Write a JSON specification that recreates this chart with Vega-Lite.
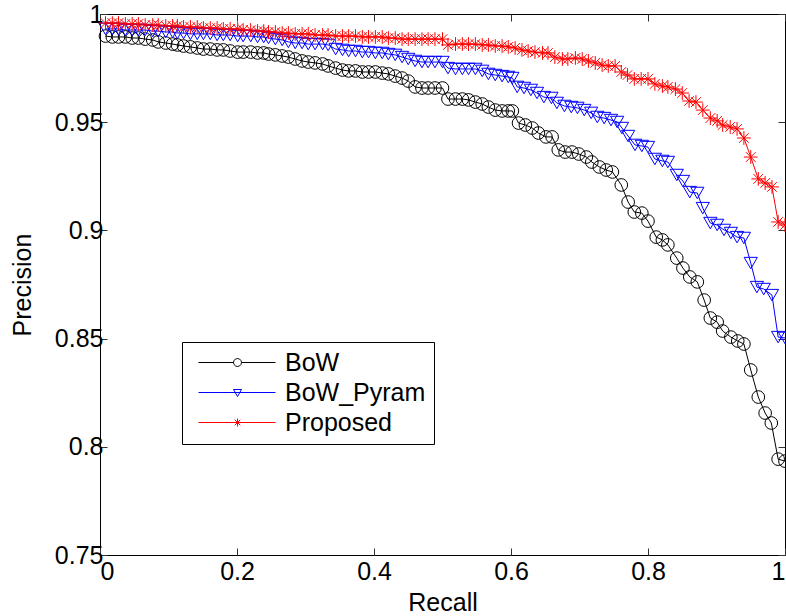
{
  "$schema": "https://vega.github.io/schema/vega-lite/v6.json",
  "width": 685,
  "height": 541,
  "autosize": {"type": "none"},
  "padding": {"left": 100, "top": 14, "right": 1, "bottom": 61},
  "background": "white",
  "config": {
    "view": {"stroke": "black", "strokeWidth": 1},
    "font": "Liberation Sans",
    "axis": {
      "grid": false,
      "domain": false,
      "tickSize": -7,
      "tickColor": "#333333",
      "tickWidth": 1,
      "labelFont": "Liberation Sans",
      "labelFontSize": 25,
      "labelColor": "black",
      "titleFont": "Liberation Sans",
      "titleFontSize": 25,
      "titleFontWeight": "normal",
      "titleColor": "black"
    }
  },
  "data": {
    "values": [
      {"method": "BoW", "recall": 0.008, "precision": 0.9898},
      {"method": "BoW", "recall": 0.018, "precision": 0.9894},
      {"method": "BoW", "recall": 0.027, "precision": 0.9894},
      {"method": "BoW", "recall": 0.037, "precision": 0.9894},
      {"method": "BoW", "recall": 0.047, "precision": 0.9889},
      {"method": "BoW", "recall": 0.056, "precision": 0.9889},
      {"method": "BoW", "recall": 0.066, "precision": 0.9884},
      {"method": "BoW", "recall": 0.077, "precision": 0.9880},
      {"method": "BoW", "recall": 0.085, "precision": 0.9871},
      {"method": "BoW", "recall": 0.096, "precision": 0.9866},
      {"method": "BoW", "recall": 0.106, "precision": 0.9861},
      {"method": "BoW", "recall": 0.113, "precision": 0.9857},
      {"method": "BoW", "recall": 0.122, "precision": 0.9852},
      {"method": "BoW", "recall": 0.132, "precision": 0.9848},
      {"method": "BoW", "recall": 0.142, "precision": 0.9843},
      {"method": "BoW", "recall": 0.151, "precision": 0.9838},
      {"method": "BoW", "recall": 0.161, "precision": 0.9838},
      {"method": "BoW", "recall": 0.171, "precision": 0.9834},
      {"method": "BoW", "recall": 0.180, "precision": 0.9834},
      {"method": "BoW", "recall": 0.190, "precision": 0.9829},
      {"method": "BoW", "recall": 0.201, "precision": 0.9824},
      {"method": "BoW", "recall": 0.209, "precision": 0.9824},
      {"method": "BoW", "recall": 0.220, "precision": 0.9824},
      {"method": "BoW", "recall": 0.230, "precision": 0.9820},
      {"method": "BoW", "recall": 0.239, "precision": 0.9820},
      {"method": "BoW", "recall": 0.246, "precision": 0.9815},
      {"method": "BoW", "recall": 0.256, "precision": 0.9811},
      {"method": "BoW", "recall": 0.266, "precision": 0.9806},
      {"method": "BoW", "recall": 0.275, "precision": 0.9801},
      {"method": "BoW", "recall": 0.285, "precision": 0.9792},
      {"method": "BoW", "recall": 0.295, "precision": 0.9783},
      {"method": "BoW", "recall": 0.304, "precision": 0.9778},
      {"method": "BoW", "recall": 0.314, "precision": 0.9774},
      {"method": "BoW", "recall": 0.325, "precision": 0.9769},
      {"method": "BoW", "recall": 0.333, "precision": 0.9760},
      {"method": "BoW", "recall": 0.344, "precision": 0.9750},
      {"method": "BoW", "recall": 0.354, "precision": 0.9741},
      {"method": "BoW", "recall": 0.363, "precision": 0.9737},
      {"method": "BoW", "recall": 0.373, "precision": 0.9737},
      {"method": "BoW", "recall": 0.383, "precision": 0.9732},
      {"method": "BoW", "recall": 0.392, "precision": 0.9732},
      {"method": "BoW", "recall": 0.402, "precision": 0.9732},
      {"method": "BoW", "recall": 0.412, "precision": 0.9727},
      {"method": "BoW", "recall": 0.421, "precision": 0.9723},
      {"method": "BoW", "recall": 0.431, "precision": 0.9713},
      {"method": "BoW", "recall": 0.441, "precision": 0.9704},
      {"method": "BoW", "recall": 0.450, "precision": 0.9690},
      {"method": "BoW", "recall": 0.460, "precision": 0.9663},
      {"method": "BoW", "recall": 0.470, "precision": 0.9658},
      {"method": "BoW", "recall": 0.479, "precision": 0.9658},
      {"method": "BoW", "recall": 0.489, "precision": 0.9658},
      {"method": "BoW", "recall": 0.500, "precision": 0.9658},
      {"method": "BoW", "recall": 0.508, "precision": 0.9607},
      {"method": "BoW", "recall": 0.519, "precision": 0.9607},
      {"method": "BoW", "recall": 0.529, "precision": 0.9607},
      {"method": "BoW", "recall": 0.538, "precision": 0.9603},
      {"method": "BoW", "recall": 0.548, "precision": 0.9593},
      {"method": "BoW", "recall": 0.558, "precision": 0.9584},
      {"method": "BoW", "recall": 0.567, "precision": 0.9570},
      {"method": "BoW", "recall": 0.577, "precision": 0.9556},
      {"method": "BoW", "recall": 0.587, "precision": 0.9552},
      {"method": "BoW", "recall": 0.596, "precision": 0.9552},
      {"method": "BoW", "recall": 0.602, "precision": 0.9552},
      {"method": "BoW", "recall": 0.611, "precision": 0.9496},
      {"method": "BoW", "recall": 0.621, "precision": 0.9487},
      {"method": "BoW", "recall": 0.631, "precision": 0.9473},
      {"method": "BoW", "recall": 0.640, "precision": 0.9450},
      {"method": "BoW", "recall": 0.651, "precision": 0.9432},
      {"method": "BoW", "recall": 0.660, "precision": 0.9432},
      {"method": "BoW", "recall": 0.669, "precision": 0.9372},
      {"method": "BoW", "recall": 0.679, "precision": 0.9362},
      {"method": "BoW", "recall": 0.689, "precision": 0.9362},
      {"method": "BoW", "recall": 0.699, "precision": 0.9353},
      {"method": "BoW", "recall": 0.710, "precision": 0.9339},
      {"method": "BoW", "recall": 0.718, "precision": 0.9316},
      {"method": "BoW", "recall": 0.729, "precision": 0.9293},
      {"method": "BoW", "recall": 0.739, "precision": 0.9279},
      {"method": "BoW", "recall": 0.748, "precision": 0.9270},
      {"method": "BoW", "recall": 0.761, "precision": 0.9210},
      {"method": "BoW", "recall": 0.771, "precision": 0.9131},
      {"method": "BoW", "recall": 0.780, "precision": 0.9085},
      {"method": "BoW", "recall": 0.791, "precision": 0.9080},
      {"method": "BoW", "recall": 0.800, "precision": 0.9043},
      {"method": "BoW", "recall": 0.812, "precision": 0.8969},
      {"method": "BoW", "recall": 0.821, "precision": 0.8956},
      {"method": "BoW", "recall": 0.829, "precision": 0.8933},
      {"method": "BoW", "recall": 0.842, "precision": 0.8872},
      {"method": "BoW", "recall": 0.851, "precision": 0.8826},
      {"method": "BoW", "recall": 0.861, "precision": 0.8785},
      {"method": "BoW", "recall": 0.872, "precision": 0.8762},
      {"method": "BoW", "recall": 0.882, "precision": 0.8678},
      {"method": "BoW", "recall": 0.891, "precision": 0.8595},
      {"method": "BoW", "recall": 0.901, "precision": 0.8576},
      {"method": "BoW", "recall": 0.909, "precision": 0.8535},
      {"method": "BoW", "recall": 0.921, "precision": 0.8507},
      {"method": "BoW", "recall": 0.931, "precision": 0.8489},
      {"method": "BoW", "recall": 0.940, "precision": 0.8475},
      {"method": "BoW", "recall": 0.950, "precision": 0.8355},
      {"method": "BoW", "recall": 0.961, "precision": 0.8230},
      {"method": "BoW", "recall": 0.971, "precision": 0.8156},
      {"method": "BoW", "recall": 0.980, "precision": 0.8110},
      {"method": "BoW", "recall": 0.990, "precision": 0.7943},
      {"method": "BoW", "recall": 1.000, "precision": 0.7934},

      {"method": "BoW_Pyram", "recall": 0.008, "precision": 0.9931},
      {"method": "BoW_Pyram", "recall": 0.018, "precision": 0.9931},
      {"method": "BoW_Pyram", "recall": 0.027, "precision": 0.9931},
      {"method": "BoW_Pyram", "recall": 0.037, "precision": 0.9926},
      {"method": "BoW_Pyram", "recall": 0.047, "precision": 0.9926},
      {"method": "BoW_Pyram", "recall": 0.056, "precision": 0.9926},
      {"method": "BoW_Pyram", "recall": 0.066, "precision": 0.9926},
      {"method": "BoW_Pyram", "recall": 0.077, "precision": 0.9921},
      {"method": "BoW_Pyram", "recall": 0.085, "precision": 0.9921},
      {"method": "BoW_Pyram", "recall": 0.096, "precision": 0.9917},
      {"method": "BoW_Pyram", "recall": 0.106, "precision": 0.9917},
      {"method": "BoW_Pyram", "recall": 0.113, "precision": 0.9912},
      {"method": "BoW_Pyram", "recall": 0.122, "precision": 0.9912},
      {"method": "BoW_Pyram", "recall": 0.132, "precision": 0.9908},
      {"method": "BoW_Pyram", "recall": 0.142, "precision": 0.9908},
      {"method": "BoW_Pyram", "recall": 0.151, "precision": 0.9908},
      {"method": "BoW_Pyram", "recall": 0.161, "precision": 0.9908},
      {"method": "BoW_Pyram", "recall": 0.171, "precision": 0.9903},
      {"method": "BoW_Pyram", "recall": 0.180, "precision": 0.9903},
      {"method": "BoW_Pyram", "recall": 0.190, "precision": 0.9903},
      {"method": "BoW_Pyram", "recall": 0.201, "precision": 0.9898},
      {"method": "BoW_Pyram", "recall": 0.209, "precision": 0.9898},
      {"method": "BoW_Pyram", "recall": 0.220, "precision": 0.9898},
      {"method": "BoW_Pyram", "recall": 0.230, "precision": 0.9894},
      {"method": "BoW_Pyram", "recall": 0.239, "precision": 0.9894},
      {"method": "BoW_Pyram", "recall": 0.246, "precision": 0.9889},
      {"method": "BoW_Pyram", "recall": 0.256, "precision": 0.9884},
      {"method": "BoW_Pyram", "recall": 0.266, "precision": 0.9880},
      {"method": "BoW_Pyram", "recall": 0.275, "precision": 0.9871},
      {"method": "BoW_Pyram", "recall": 0.285, "precision": 0.9866},
      {"method": "BoW_Pyram", "recall": 0.295, "precision": 0.9866},
      {"method": "BoW_Pyram", "recall": 0.304, "precision": 0.9861},
      {"method": "BoW_Pyram", "recall": 0.314, "precision": 0.9861},
      {"method": "BoW_Pyram", "recall": 0.325, "precision": 0.9861},
      {"method": "BoW_Pyram", "recall": 0.333, "precision": 0.9857},
      {"method": "BoW_Pyram", "recall": 0.344, "precision": 0.9838},
      {"method": "BoW_Pyram", "recall": 0.354, "precision": 0.9834},
      {"method": "BoW_Pyram", "recall": 0.363, "precision": 0.9829},
      {"method": "BoW_Pyram", "recall": 0.373, "precision": 0.9829},
      {"method": "BoW_Pyram", "recall": 0.383, "precision": 0.9824},
      {"method": "BoW_Pyram", "recall": 0.392, "precision": 0.9824},
      {"method": "BoW_Pyram", "recall": 0.402, "precision": 0.9820},
      {"method": "BoW_Pyram", "recall": 0.412, "precision": 0.9820},
      {"method": "BoW_Pyram", "recall": 0.421, "precision": 0.9815},
      {"method": "BoW_Pyram", "recall": 0.431, "precision": 0.9811},
      {"method": "BoW_Pyram", "recall": 0.441, "precision": 0.9801},
      {"method": "BoW_Pyram", "recall": 0.450, "precision": 0.9792},
      {"method": "BoW_Pyram", "recall": 0.460, "precision": 0.9783},
      {"method": "BoW_Pyram", "recall": 0.470, "precision": 0.9778},
      {"method": "BoW_Pyram", "recall": 0.479, "precision": 0.9778},
      {"method": "BoW_Pyram", "recall": 0.489, "precision": 0.9778},
      {"method": "BoW_Pyram", "recall": 0.500, "precision": 0.9778},
      {"method": "BoW_Pyram", "recall": 0.508, "precision": 0.9750},
      {"method": "BoW_Pyram", "recall": 0.519, "precision": 0.9746},
      {"method": "BoW_Pyram", "recall": 0.529, "precision": 0.9746},
      {"method": "BoW_Pyram", "recall": 0.538, "precision": 0.9746},
      {"method": "BoW_Pyram", "recall": 0.548, "precision": 0.9746},
      {"method": "BoW_Pyram", "recall": 0.558, "precision": 0.9737},
      {"method": "BoW_Pyram", "recall": 0.567, "precision": 0.9723},
      {"method": "BoW_Pyram", "recall": 0.577, "precision": 0.9718},
      {"method": "BoW_Pyram", "recall": 0.587, "precision": 0.9713},
      {"method": "BoW_Pyram", "recall": 0.596, "precision": 0.9709},
      {"method": "BoW_Pyram", "recall": 0.602, "precision": 0.9704},
      {"method": "BoW_Pyram", "recall": 0.609, "precision": 0.9663},
      {"method": "BoW_Pyram", "recall": 0.619, "precision": 0.9658},
      {"method": "BoW_Pyram", "recall": 0.629, "precision": 0.9649},
      {"method": "BoW_Pyram", "recall": 0.638, "precision": 0.9635},
      {"method": "BoW_Pyram", "recall": 0.648, "precision": 0.9616},
      {"method": "BoW_Pyram", "recall": 0.659, "precision": 0.9612},
      {"method": "BoW_Pyram", "recall": 0.667, "precision": 0.9589},
      {"method": "BoW_Pyram", "recall": 0.678, "precision": 0.9575},
      {"method": "BoW_Pyram", "recall": 0.688, "precision": 0.9570},
      {"method": "BoW_Pyram", "recall": 0.697, "precision": 0.9566},
      {"method": "BoW_Pyram", "recall": 0.707, "precision": 0.9556},
      {"method": "BoW_Pyram", "recall": 0.717, "precision": 0.9543},
      {"method": "BoW_Pyram", "recall": 0.726, "precision": 0.9524},
      {"method": "BoW_Pyram", "recall": 0.736, "precision": 0.9519},
      {"method": "BoW_Pyram", "recall": 0.746, "precision": 0.9510},
      {"method": "BoW_Pyram", "recall": 0.755, "precision": 0.9501},
      {"method": "BoW_Pyram", "recall": 0.762, "precision": 0.9473},
      {"method": "BoW_Pyram", "recall": 0.771, "precision": 0.9436},
      {"method": "BoW_Pyram", "recall": 0.781, "precision": 0.9395},
      {"method": "BoW_Pyram", "recall": 0.791, "precision": 0.9390},
      {"method": "BoW_Pyram", "recall": 0.800, "precision": 0.9385},
      {"method": "BoW_Pyram", "recall": 0.810, "precision": 0.9330},
      {"method": "BoW_Pyram", "recall": 0.821, "precision": 0.9321},
      {"method": "BoW_Pyram", "recall": 0.829, "precision": 0.9316},
      {"method": "BoW_Pyram", "recall": 0.842, "precision": 0.9256},
      {"method": "BoW_Pyram", "recall": 0.851, "precision": 0.9228},
      {"method": "BoW_Pyram", "recall": 0.861, "precision": 0.9177},
      {"method": "BoW_Pyram", "recall": 0.872, "precision": 0.9173},
      {"method": "BoW_Pyram", "recall": 0.880, "precision": 0.9103},
      {"method": "BoW_Pyram", "recall": 0.891, "precision": 0.9034},
      {"method": "BoW_Pyram", "recall": 0.901, "precision": 0.9025},
      {"method": "BoW_Pyram", "recall": 0.911, "precision": 0.9002},
      {"method": "BoW_Pyram", "recall": 0.921, "precision": 0.8988},
      {"method": "BoW_Pyram", "recall": 0.930, "precision": 0.8969},
      {"method": "BoW_Pyram", "recall": 0.940, "precision": 0.8965},
      {"method": "BoW_Pyram", "recall": 0.950, "precision": 0.8849},
      {"method": "BoW_Pyram", "recall": 0.959, "precision": 0.8738},
      {"method": "BoW_Pyram", "recall": 0.969, "precision": 0.8729},
      {"method": "BoW_Pyram", "recall": 0.981, "precision": 0.8701},
      {"method": "BoW_Pyram", "recall": 0.990, "precision": 0.8507},
      {"method": "BoW_Pyram", "recall": 1.000, "precision": 0.8503},

      {"method": "Proposed", "recall": 0.008, "precision": 0.9958},
      {"method": "Proposed", "recall": 0.018, "precision": 0.9958},
      {"method": "Proposed", "recall": 0.027, "precision": 0.9958},
      {"method": "Proposed", "recall": 0.037, "precision": 0.9954},
      {"method": "Proposed", "recall": 0.047, "precision": 0.9954},
      {"method": "Proposed", "recall": 0.056, "precision": 0.9954},
      {"method": "Proposed", "recall": 0.066, "precision": 0.9949},
      {"method": "Proposed", "recall": 0.077, "precision": 0.9949},
      {"method": "Proposed", "recall": 0.085, "precision": 0.9949},
      {"method": "Proposed", "recall": 0.096, "precision": 0.9945},
      {"method": "Proposed", "recall": 0.106, "precision": 0.9945},
      {"method": "Proposed", "recall": 0.113, "precision": 0.9945},
      {"method": "Proposed", "recall": 0.122, "precision": 0.9940},
      {"method": "Proposed", "recall": 0.132, "precision": 0.9940},
      {"method": "Proposed", "recall": 0.142, "precision": 0.9940},
      {"method": "Proposed", "recall": 0.151, "precision": 0.9935},
      {"method": "Proposed", "recall": 0.161, "precision": 0.9935},
      {"method": "Proposed", "recall": 0.171, "precision": 0.9935},
      {"method": "Proposed", "recall": 0.180, "precision": 0.9931},
      {"method": "Proposed", "recall": 0.190, "precision": 0.9931},
      {"method": "Proposed", "recall": 0.201, "precision": 0.9931},
      {"method": "Proposed", "recall": 0.209, "precision": 0.9926},
      {"method": "Proposed", "recall": 0.220, "precision": 0.9926},
      {"method": "Proposed", "recall": 0.230, "precision": 0.9921},
      {"method": "Proposed", "recall": 0.239, "precision": 0.9921},
      {"method": "Proposed", "recall": 0.246, "precision": 0.9917},
      {"method": "Proposed", "recall": 0.256, "precision": 0.9917},
      {"method": "Proposed", "recall": 0.266, "precision": 0.9912},
      {"method": "Proposed", "recall": 0.275, "precision": 0.9912},
      {"method": "Proposed", "recall": 0.285, "precision": 0.9908},
      {"method": "Proposed", "recall": 0.295, "precision": 0.9908},
      {"method": "Proposed", "recall": 0.304, "precision": 0.9908},
      {"method": "Proposed", "recall": 0.314, "precision": 0.9903},
      {"method": "Proposed", "recall": 0.325, "precision": 0.9903},
      {"method": "Proposed", "recall": 0.333, "precision": 0.9903},
      {"method": "Proposed", "recall": 0.344, "precision": 0.9898},
      {"method": "Proposed", "recall": 0.354, "precision": 0.9898},
      {"method": "Proposed", "recall": 0.363, "precision": 0.9898},
      {"method": "Proposed", "recall": 0.373, "precision": 0.9898},
      {"method": "Proposed", "recall": 0.383, "precision": 0.9894},
      {"method": "Proposed", "recall": 0.392, "precision": 0.9894},
      {"method": "Proposed", "recall": 0.402, "precision": 0.9894},
      {"method": "Proposed", "recall": 0.412, "precision": 0.9894},
      {"method": "Proposed", "recall": 0.421, "precision": 0.9889},
      {"method": "Proposed", "recall": 0.431, "precision": 0.9889},
      {"method": "Proposed", "recall": 0.441, "precision": 0.9884},
      {"method": "Proposed", "recall": 0.450, "precision": 0.9884},
      {"method": "Proposed", "recall": 0.460, "precision": 0.9884},
      {"method": "Proposed", "recall": 0.470, "precision": 0.9884},
      {"method": "Proposed", "recall": 0.479, "precision": 0.9884},
      {"method": "Proposed", "recall": 0.489, "precision": 0.9884},
      {"method": "Proposed", "recall": 0.500, "precision": 0.9884},
      {"method": "Proposed", "recall": 0.508, "precision": 0.9857},
      {"method": "Proposed", "recall": 0.519, "precision": 0.9861},
      {"method": "Proposed", "recall": 0.529, "precision": 0.9861},
      {"method": "Proposed", "recall": 0.538, "precision": 0.9861},
      {"method": "Proposed", "recall": 0.548, "precision": 0.9861},
      {"method": "Proposed", "recall": 0.558, "precision": 0.9857},
      {"method": "Proposed", "recall": 0.567, "precision": 0.9857},
      {"method": "Proposed", "recall": 0.577, "precision": 0.9852},
      {"method": "Proposed", "recall": 0.587, "precision": 0.9852},
      {"method": "Proposed", "recall": 0.596, "precision": 0.9848},
      {"method": "Proposed", "recall": 0.606, "precision": 0.9843},
      {"method": "Proposed", "recall": 0.616, "precision": 0.9834},
      {"method": "Proposed", "recall": 0.625, "precision": 0.9829},
      {"method": "Proposed", "recall": 0.635, "precision": 0.9824},
      {"method": "Proposed", "recall": 0.646, "precision": 0.9820},
      {"method": "Proposed", "recall": 0.654, "precision": 0.9820},
      {"method": "Proposed", "recall": 0.664, "precision": 0.9801},
      {"method": "Proposed", "recall": 0.675, "precision": 0.9792},
      {"method": "Proposed", "recall": 0.683, "precision": 0.9792},
      {"method": "Proposed", "recall": 0.694, "precision": 0.9797},
      {"method": "Proposed", "recall": 0.704, "precision": 0.9792},
      {"method": "Proposed", "recall": 0.713, "precision": 0.9783},
      {"method": "Proposed", "recall": 0.723, "precision": 0.9774},
      {"method": "Proposed", "recall": 0.733, "precision": 0.9764},
      {"method": "Proposed", "recall": 0.742, "precision": 0.9760},
      {"method": "Proposed", "recall": 0.752, "precision": 0.9760},
      {"method": "Proposed", "recall": 0.761, "precision": 0.9732},
      {"method": "Proposed", "recall": 0.770, "precision": 0.9718},
      {"method": "Proposed", "recall": 0.780, "precision": 0.9700},
      {"method": "Proposed", "recall": 0.790, "precision": 0.9700},
      {"method": "Proposed", "recall": 0.800, "precision": 0.9700},
      {"method": "Proposed", "recall": 0.810, "precision": 0.9677},
      {"method": "Proposed", "recall": 0.821, "precision": 0.9667},
      {"method": "Proposed", "recall": 0.829, "precision": 0.9663},
      {"method": "Proposed", "recall": 0.840, "precision": 0.9653},
      {"method": "Proposed", "recall": 0.850, "precision": 0.9635},
      {"method": "Proposed", "recall": 0.860, "precision": 0.9598},
      {"method": "Proposed", "recall": 0.870, "precision": 0.9593},
      {"method": "Proposed", "recall": 0.880, "precision": 0.9556},
      {"method": "Proposed", "recall": 0.891, "precision": 0.9519},
      {"method": "Proposed", "recall": 0.901, "precision": 0.9506},
      {"method": "Proposed", "recall": 0.909, "precision": 0.9487},
      {"method": "Proposed", "recall": 0.920, "precision": 0.9478},
      {"method": "Proposed", "recall": 0.930, "precision": 0.9469},
      {"method": "Proposed", "recall": 0.940, "precision": 0.9427},
      {"method": "Proposed", "recall": 0.950, "precision": 0.9339},
      {"method": "Proposed", "recall": 0.961, "precision": 0.9238},
      {"method": "Proposed", "recall": 0.971, "precision": 0.9219},
      {"method": "Proposed", "recall": 0.981, "precision": 0.9201},
      {"method": "Proposed", "recall": 0.990, "precision": 0.9039},
      {"method": "Proposed", "recall": 1.000, "precision": 0.9025}
    ]
  },
  "layer": [
    {
      "mark": {"type": "line", "strokeWidth": 1, "clip": false},
      "encoding": {
        "x": {
          "field": "recall",
          "type": "quantitative",
          "scale": {"domain": [0, 1], "nice": false, "zero": false},
          "axis": {
            "orient": "bottom",
            "values": [0, 0.2, 0.4, 0.6, 0.8, 1],
            "format": ".1~f",
            "title": "Recall",
            "labelPadding": 11,
            "titleX": 342.5,
            "titleY": 55,
            "titleAnchor": "middle",
            "titleAlign": "center",
            "titleBaseline": "alphabetic"
          }
        },
        "y": {
          "field": "precision",
          "type": "quantitative",
          "scale": {"domain": [0.75, 1], "nice": false, "zero": false},
          "axis": {
            "orient": "left",
            "values": [0.75, 0.8, 0.85, 0.9, 0.95, 1],
            "format": ".2~f",
            "title": "Precision",
            "labelPadding": 4,
            "titleAngle": -90,
            "titleX": -70,
            "titleY": 270.5,
            "titleAlign": "center",
            "titleBaseline": "alphabetic"
          }
        },
        "color": {
          "field": "method",
          "type": "nominal",
          "scale": {"domain": ["BoW", "BoW_Pyram", "Proposed"], "range": ["#000000", "#0000ff", "#ff0000"]},
          "legend": null
        }
      }
    },
    {
      "mark": {"type": "point", "filled": false, "strokeWidth": 1, "opacity": 1, "clip": false},
      "encoding": {
        "x": {
          "field": "recall",
          "type": "quantitative",
          "axis": {"orient": "top", "values": [0, 0.2, 0.4, 0.6, 0.8, 1], "labels": false, "title": null}
        },
        "y": {
          "field": "precision",
          "type": "quantitative",
          "axis": {"orient": "right", "values": [0.75, 0.8, 0.85, 0.9, 0.95, 1], "labels": false, "title": null}
        },
        "color": {
          "field": "method",
          "type": "nominal",
          "legend": {
            "orient": "none",
            "legendX": 82,
            "legendY": 328,
            "title": null,
            "strokeColor": "black",
            "fillColor": "white",
            "padding": 8,
            "labelFont": "Liberation Sans",
            "labelFontSize": 25,
            "labelColor": "black",
            "labelOffset": 70,
            "rowPadding": 4,
            "symbolSize": 16,
            "symbolStrokeWidth": 1,
            "symbolType": {
              "expr": "datum.value === 'BoW' ? 'M-2,0L15.5,0M19.5,0L36.5,0M19.5,0L19.23,1L18.5,1.73L17.5,2L16.5,1.73L15.77,1L15.5,0L15.77,-1L16.5,-1.73L17.5,-2L18.5,-1.73L19.23,-1Z' : datum.value === 'BoW_Pyram' ? 'M-2,0L36.5,0M15.5,-1.5L19.5,-1.5L17.5,2Z' : 'M-2,0L36.5,0M17.5,-2L17.5,2M16.1,-1.4L18.9,1.4M16.1,1.4L18.9,-1.4'"
            }
          }
        },
        "shape": {
          "field": "method",
          "type": "nominal",
          "scale": {
            "domain": ["BoW", "BoW_Pyram", "Proposed"],
            "range": ["circle", "triangle-down", "M-1,0L1,0M0,-1L0,1M-0.7,-0.7L0.7,0.7M-0.7,0.7L0.7,-0.7"]
          },
          "legend": null
        },
        "size": {
          "field": "method",
          "type": "nominal",
          "scale": {"domain": ["BoW", "BoW_Pyram", "Proposed"], "range": [160, 190, 130]},
          "legend": null
        }
      }
    }
  ],
  "resolve": {
    "axis": {"x": "independent", "y": "independent"},
    "legend": {"color": "independent"}
  }
}
